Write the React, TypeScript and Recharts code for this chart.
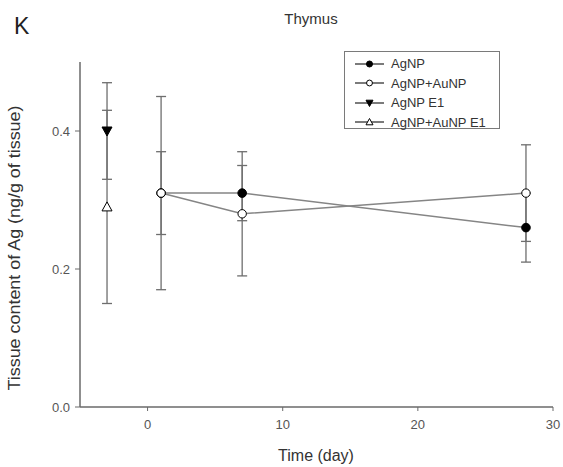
import React from 'react';
import { ComposedChart, Line, XAxis, YAxis, ErrorBar } from 'recharts';

// Thymus: Ag tissue content over time, four exposure groups
const days = [1, 7, 28];
const agnpMean = [0.31, 0.31, 0.26];
const agnpSd = [0.06, 0.04, 0.05];
const agnpAunpMean = [0.31, 0.28, 0.31];
const agnpAunpSd = [0.14, 0.09, 0.07];

const e1Day = [-3];
const agnpE1Mean = [0.4];
const agnpE1Sd = [0.07];
const agnpAunpE1Mean = [0.29];
const agnpAunpE1Sd = [0.14];

const xTicks = [0, 10, 20, 30];
const yTicks = [0.0, 0.2, 0.4];

const toRows = (x: number[], mean: number[], sd: number[]) =>
  x.map((d, i) => ({ day: d, value: mean[i], err: sd[i] }));

const agnpRows = toRows(days, agnpMean, agnpSd);
const agnpAunpRows = toRows(days, agnpAunpMean, agnpAunpSd);
const agnpE1Rows = toRows(e1Day, agnpE1Mean, agnpE1Sd);
const agnpAunpE1Rows = toRows(e1Day, agnpAunpE1Mean, agnpAunpE1Sd);

type Shape = 'circle' | 'circleOpen' | 'triDown' | 'triUpOpen';

const LINE = '#858585';
const ERR = '#6e6e6e';
const AXIS = '#6a6a6a';
const FONT = '"Liberation Sans", Arial, sans-serif';

const Marker = ({ cx, cy, shape, s = 1 }: { cx: number; cy: number; shape: Shape; s?: number }) => {
  if (cx == null || cy == null) return null;
  switch (shape) {
    case 'circle':
      return <circle cx={cx} cy={cy} r={4.3 * s} fill="#000" stroke="#000" strokeWidth={1} />;
    case 'circleOpen':
      return <circle cx={cx} cy={cy} r={4.2 * s} fill="#fff" stroke="#000" strokeWidth={1} />;
    case 'triDown':
      return (
        <polygon
          points={`${cx - 5 * s},${cy - 4 * s} ${cx + 5 * s},${cy - 4 * s} ${cx},${cy + 5 * s}`}
          fill="#000"
          stroke="#000"
        />
      );
    default:
      return (
        <polygon
          points={`${cx - 5 * s},${cy + 4 * s} ${cx + 5 * s},${cy + 4 * s} ${cx},${cy - 5 * s}`}
          fill="#fff"
          stroke="#000"
        />
      );
  }
};

const series: { name: string; rows: any[]; shape: Shape }[] = [
  { name: 'AgNP', rows: agnpRows, shape: 'circle' },
  { name: 'AgNP+AuNP', rows: agnpAunpRows, shape: 'circleOpen' },
  { name: 'AgNP E1', rows: agnpE1Rows, shape: 'triDown' },
  { name: 'AgNP+AuNP E1', rows: agnpAunpE1Rows, shape: 'triUpOpen' },
];

const LegendBox = () => (
  <div
    style={{
      position: 'absolute',
      left: 344,
      top: 51,
      width: 156,
      height: 78,
      border: '1.5px solid #7a7a7a',
      background: '#fff',
      boxSizing: 'border-box',
      paddingTop: 2,
      fontFamily: FONT,
      fontSize: 13,
      color: '#333',
    }}
  >
    {series.map((s) => (
      <div key={s.name} style={{ display: 'flex', alignItems: 'center', height: 19.5 }}>
        <svg width={37} height={14} style={{ marginLeft: 9 }}>
          <line x1={1} y1={7} x2={30} y2={7} stroke="#222" strokeWidth={1.2} />
          <Marker cx={15.5} cy={7} shape={s.shape} s={0.7} />
        </svg>
        <span>{s.name}</span>
      </div>
    ))}
  </div>
);

export default function App() {
  return (
    <div style={{ position: 'absolute', left: 0, top: 0, width: 563, height: 467, background: '#fff' }}>
      <ComposedChart
        width={563}
        height={467}
        margin={{ top: 62, right: 10, bottom: 30, left: 30 }}
        style={{ fontFamily: FONT }}
      >
        <XAxis
          type="number"
          dataKey="day"
          domain={[-5, 30]}
          ticks={xTicks}
          allowDuplicatedCategory={false}
          height={30}
          tickSize={4}
          tick={{ fill: '#555', fontSize: 13, dy: 7 }}
          axisLine={{ stroke: AXIS, strokeWidth: 1.5 }}
          tickLine={{ stroke: AXIS }}
        />
        <YAxis
          type="number"
          domain={[0, 0.5]}
          ticks={yTicks}
          width={50}
          tickSize={5}
          tickFormatter={(v: number) => v.toFixed(1)}
          tick={{ fill: '#555', fontSize: 13, dx: -3 }}
          axisLine={{ stroke: AXIS, strokeWidth: 1.5 }}
          tickLine={{ stroke: AXIS }}
        />
        {series.map((s) => (
          <Line
            key={s.name}
            name={s.name}
            data={s.rows}
            dataKey="value"
            stroke={LINE}
            strokeWidth={1.5}
            isAnimationActive={false}
            dot={(p: any) => <Marker key={`${s.name}-${p.index}`} cx={p.cx} cy={p.cy} shape={s.shape} />}
            activeDot={false}
          >
            <ErrorBar dataKey="err" direction="y" width={5} stroke={ERR} strokeWidth={1.3} />
          </Line>
        ))}
        <text x={311} y={24} textAnchor="middle" fontSize={15} fill="#333" fontFamily={FONT}>
          Thymus
        </text>
        <text x={14} y={34} fontSize={23} fill="#222" fontFamily={FONT}>
          K
        </text>
        <text x={316} y={461} textAnchor="middle" fontSize={16} fill="#333" fontFamily={FONT}>
          Time (day)
        </text>
        <text
          x={20}
          y={248}
          textAnchor="middle"
          fontSize={16}
          fill="#333"
          fontFamily={FONT}
          textLength={285}
          lengthAdjust="spacingAndGlyphs"
          transform="rotate(-90, 20, 248)"
        >
          Tissue content of Ag (ng/g of tissue)
        </text>
      </ComposedChart>
      <LegendBox />
    </div>
  );
}
